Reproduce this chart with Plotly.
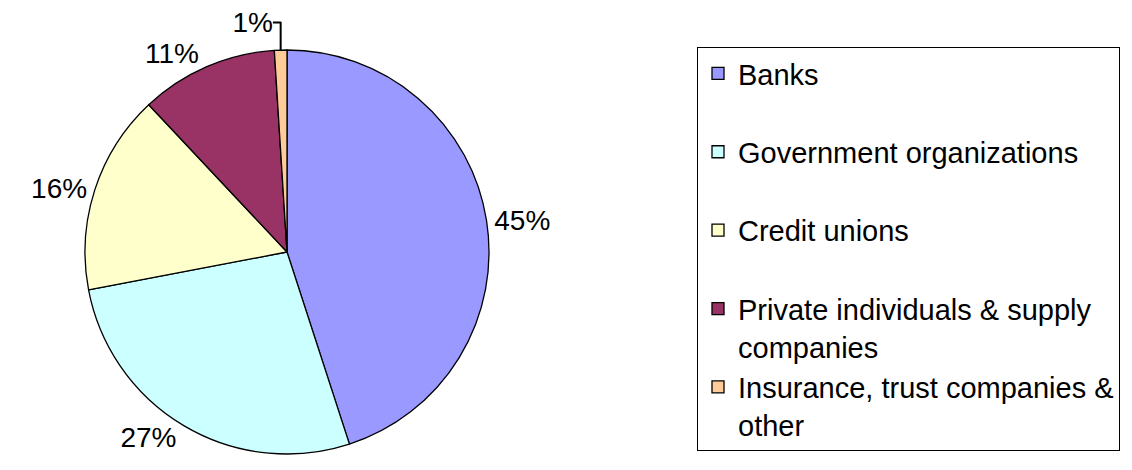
import plotly.graph_objects as go

categories = [
    "Banks",
    "Government organizations",
    "Credit unions",
    "Private individuals & supply<br>companies",
    "Insurance, trust companies &<br>other",
]
shares = [45, 27, 16, 11, 1]
colors = ["#9999FF", "#CCFFFF", "#FFFFCC", "#993366", "#FFCC99"]

# pad single-line legend entries to two lines so entries are evenly spaced
legend_labels = [c if "<br>" in c else c + "<br> " for c in categories]

W, H = 1132, 470
OFF = 8  # page body margin offset
cx, cy, r = 287 - OFF, 252 - OFF, 202

fig = go.Figure(
    go.Pie(
        labels=legend_labels,
        values=shares,
        sort=False,
        direction="clockwise",
        rotation=0,
        marker=dict(colors=colors, line=dict(color="black", width=1.3)),
        texttemplate="%{percent:.0%}",
        textposition="outside",
        textfont=dict(size=28, color="black", family="Liberation Sans, Arial, sans-serif"),
        domain=dict(
            x=[(cx - r) / W, (cx + r) / W],
            y=[(H - cy - r) / H, (H - cy + r) / H],
        ),
        hoverinfo="label+percent",
    )
)

fig.update_layout(
    width=W,
    height=H,
    margin=dict(l=0, r=0, t=0, b=0, autoexpand=False),
    paper_bgcolor="white",
    plot_bgcolor="white",
    font=dict(family="Liberation Sans, Arial, sans-serif", size=29, color="black"),
    showlegend=True,
    legend=dict(
        x=(697 - OFF) / W,
        y=1 - (47 - OFF) / H,
        xanchor="left",
        yanchor="top",
        bordercolor="black",
        borderwidth=1,
        bgcolor="white",
        valign="top",
        font=dict(size=29, color="black"),
    ),
)

fig.write_html("out.html")
